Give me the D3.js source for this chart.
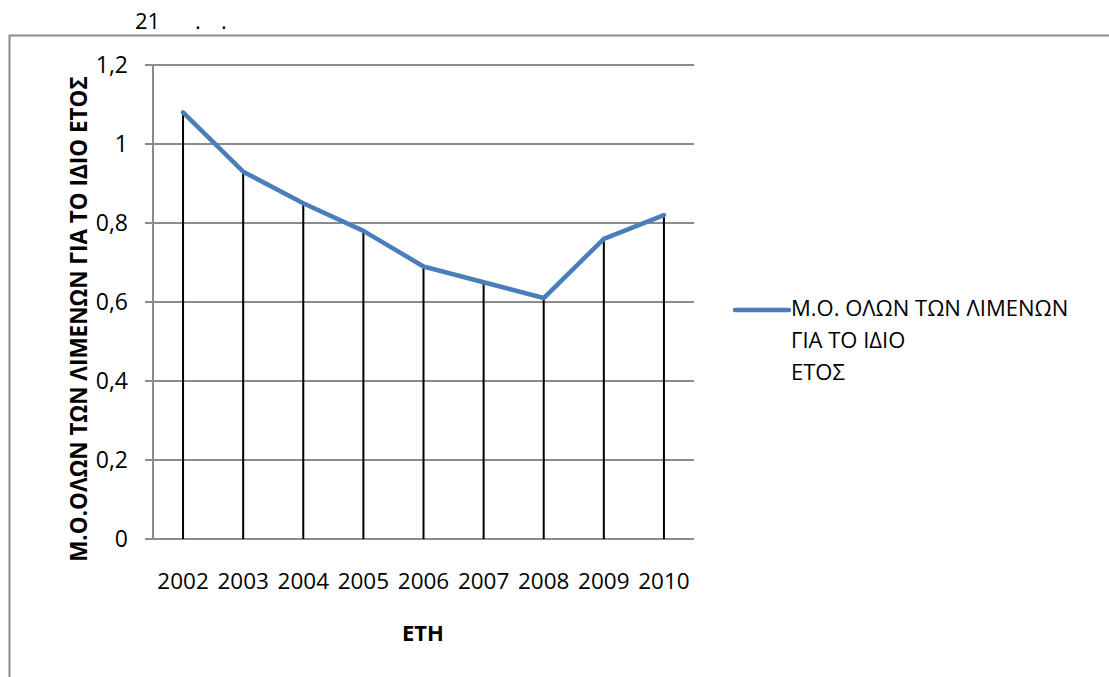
<!DOCTYPE html>
<html><head><meta charset="utf-8">
<script src="https://cdn.jsdelivr.net/npm/d3@7"></script>
<style>body{margin:0;background:#fff;} text{font-family:"Open Sans",sans-serif;}</style>
</head><body><svg id="c" width="1109" height="677"></svg>
<script>
const years = ["2002","2003","2004","2005","2006","2007","2008","2009","2010"];
const values = [1.08,0.93,0.85,0.78,0.69,0.65,0.61,0.76,0.82];
const yTicks = [0,0.2,0.4,0.6,0.8,1,1.2];
const seriesName = ["Μ.Ο. ΟΛΩΝ ΤΩΝ ΛΙΜΕΝΩΝ","ΓΙΑ ΤΟ ΙΔΙΟ","ΕΤΟΣ"];
const yTitle = "Μ.Ο.ΟΛΩΝ ΤΩΝ ΛΙΜΕΝΩΝ ΓΙΑ ΤΟ ΙΔΙΟ ΕΤΟΣ";
const xTitle = "ΕΤΗ";

const svg = d3.select("#c");
const L=153,R=694,T=65,B=539;
const x = d3.scaleBand().domain(years).range([L,R]).padding(0);
const y = d3.scaleLinear().domain([0,1.2]).range([B,T]);
const fmt = v => String(v).replace(".",",");

// header text
const hdr = svg.append("text").attr("y",29).attr("font-size",22).attr("fill","#000");
hdr.append("tspan").attr("x",135).text("21");
hdr.append("tspan").attr("x",195).text(".");
hdr.append("tspan").attr("x",221).text(".");

// frame
svg.append("path").attr("d","M9.5,677V35.5H1109").attr("fill","none").attr("stroke","#8c8c8c").attr("stroke-width",2);

// gridlines
svg.append("g").selectAll("line").data(yTicks).join("line")
  .attr("x1",145).attr("x2",R).attr("y1",d=>y(d)).attr("y2",d=>y(d))
  .attr("stroke","#8c8c8c").attr("stroke-width",2);
// y axis line
svg.append("line").attr("x1",L).attr("x2",L).attr("y1",T).attr("y2",B).attr("stroke","#8c8c8c").attr("stroke-width",2);

// y tick labels
svg.append("g").selectAll("text").data(yTicks).join("text")
  .attr("x",128).attr("y",d=>y(d)+8).attr("text-anchor","end").attr("font-size",23).text(fmt);

// x tick labels
svg.append("g").selectAll("text").data(years).join("text")
  .attr("x",d=>x(d)+x.bandwidth()/2).attr("y",589).attr("text-anchor","middle").attr("font-size",22.5).text(d=>d);

// drop lines
svg.append("g").selectAll("line").data(values).join("line")
  .attr("x1",(d,i)=>x(years[i])+x.bandwidth()/2).attr("x2",(d,i)=>x(years[i])+x.bandwidth()/2)
  .attr("y1",d=>y(d)).attr("y2",y(0)).attr("stroke","#000").attr("stroke-width",2);

// series line
const line = d3.line().x((d,i)=>x(years[i])+x.bandwidth()/2).y(d=>y(d));
svg.append("path").datum(values).attr("d",line).attr("fill","none")
  .attr("stroke","#4a7ebb").attr("stroke-width",4.5).attr("stroke-linejoin","round").attr("stroke-linecap","round");

// axis titles
svg.append("text").attr("transform","translate(87,319) rotate(-90)").attr("text-anchor","middle")
  .attr("font-size",22.5).attr("font-weight","bold").text(yTitle);
svg.append("text").attr("x",423).attr("y",641).attr("text-anchor","middle")
  .attr("font-size",22).attr("font-weight","bold").text(xTitle);

// legend
svg.append("line").attr("x1",735).attr("x2",789).attr("y1",310).attr("y2",310)
  .attr("stroke","#4a7ebb").attr("stroke-width",4.5).attr("stroke-linecap","round");
svg.append("g").selectAll("text").data(seriesName).join("text")
  .attr("x",791).attr("y",(d,i)=>316+i*32).attr("font-size",22).text(d=>d);
</script></body></html>
